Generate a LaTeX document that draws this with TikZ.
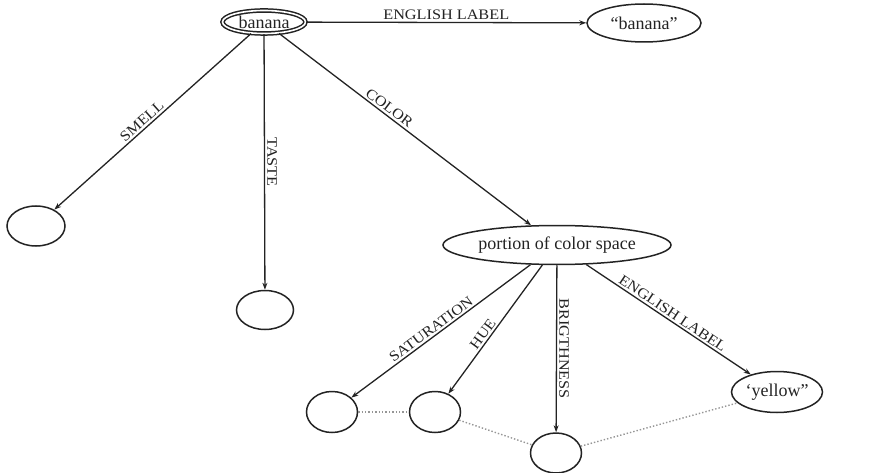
\documentclass[tikz,border=0pt]{standalone}
\usepackage{fontspec}
\setmainfont{Liberation Serif}
\newfontfamily\lblfont[FakeStretch=1.12]{Liberation Serif}
\usetikzlibrary{shapes.geometric,arrows.meta}
\definecolor{ink}{RGB}{35,35,35}
\definecolor{dotc}{RGB}{150,150,150}
\begin{document}
\begin{tikzpicture}[x=1pt,y=-1pt,
  nd/.style={ellipse,draw=ink,line width=1.5pt,inner sep=0pt,font=\fontsize{18}{18}\selectfont,text=ink},
  lbl/.style={font=\lblfont\fontsize{14.5}{14.5}\selectfont,text=ink,inner sep=2pt},
  arr/.style={draw=ink,line width=1.3pt,-{Stealth[length=7pt,width=5pt]}},
  dotline/.style={draw=dotc,line width=1.4pt,dotted}]
\useasboundingbox (0,0) rectangle (875,473);
% nodes
\node[nd,double=white,double distance=1.6pt,line width=1.5pt,minimum width=83pt,minimum height=23pt] (banana) at (264,22) {banana};
\node[nd,minimum width=114pt,minimum height=38pt] (bq) at (644,23) {``banana''};
\node[nd,minimum width=58pt,minimum height=40pt] (smell) at (36,226) {};
\node[nd,minimum width=57pt,minimum height=39pt] (taste) at (265,310) {};
\node[nd,minimum width=228pt,minimum height=39pt] (pcs) at (557,245) {portion of color space};
\node[nd,minimum width=51pt,minimum height=41pt] (sat) at (332,412) {};
\node[nd,minimum width=51pt,minimum height=41pt] (hue) at (435,412) {};
\node[nd,minimum width=51pt,minimum height=40pt] (bri) at (556,453) {};
\node[nd,minimum width=91pt,minimum height=41pt] (yel) at (777,392) {`yellow''};
% edges
\draw[arr] (banana) -- node[lbl,above,pos=0.5] {ENGLISH LABEL} (bq);
\draw[arr] (banana) -- node[lbl,sloped,above,pos=0.53] {SMELL} (smell);
\draw[arr] (banana) -- node[lbl,rotate=-90,anchor=south,pos=0.5] {TASTE} (taste);
\draw[arr] (banana) -- node[lbl,sloped,above,pos=0.42] {COLOR} (pcs);
\draw[arr] (pcs) -- node[lbl,sloped,above,pos=0.53] {SATURATION} (sat);
\draw[arr] (pcs) -- node[lbl,sloped,above,pos=0.57] {HUE} (hue);
\draw[arr] (pcs) -- node[lbl,rotate=-90,anchor=south,pos=0.5] {BRIGTHNESS} (bri);
\draw[arr] (pcs) -- node[lbl,sloped,above,pos=0.5] {ENGLISH LABEL} (yel);
% dotted links
\draw[dotline] (sat) -- (hue);
\draw[dotline] (hue) -- (bri);
\draw[dotline] (bri) -- (yel);
\end{tikzpicture}
\end{document}
